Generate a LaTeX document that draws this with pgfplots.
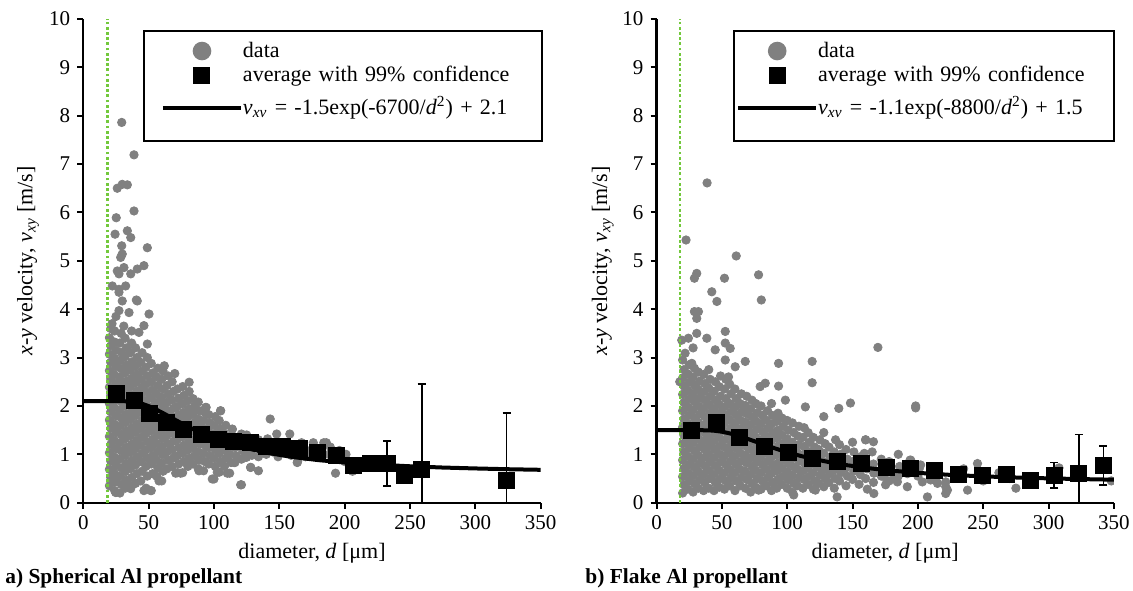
\documentclass[border=0pt]{standalone}
\usepackage{fontspec}
\setmainfont{Liberation Serif}
\usepackage{pgfplots}
\usepackage{pgfplotstable}
\pgfplotsset{compat=1.18}

\definecolor{dotgray}{RGB}{128,128,128}
\definecolor{limitgreen}{RGB}{115,200,60}

% ---------------- scatter data, spherical Al ----------------
\pgfplotstableread[row sep=\\]{x y\\
20 0.35\\21 0.52\\20 0.69\\21 0.86\\20 1.03\\21 1.20\\20 1.37\\21 1.54\\20 1.71\\21 1.88\\20 2.05\\21 2.22\\20 2.39\\21 2.56\\20 2.73\\21 2.90\\20 3.07\\21 3.24\\20 3.41\\
24 0.25\\25 0.43\\24 0.60\\25 0.77\\24 0.94\\25 1.11\\24 1.28\\25 1.45\\24 1.62\\25 1.79\\24 1.96\\25 2.13\\24 2.30\\25 2.47\\24 2.64\\25 2.81\\24 2.98\\25 3.15\\24 3.32\\24 3.55\\
28 0.20\\29 0.38\\28 0.55\\29 0.72\\28 0.90\\29 1.07\\28 1.24\\29 1.41\\28 1.58\\29 1.75\\28 1.92\\29 2.09\\28 2.26\\29 2.43\\28 2.60\\29 2.77\\28 2.94\\29 3.11\\28 3.30\\29 3.50\\
32 0.30\\33 0.47\\32 0.64\\33 0.81\\32 0.98\\33 1.15\\32 1.32\\33 1.49\\32 1.66\\33 1.83\\32 2.00\\33 2.17\\32 2.34\\33 2.51\\32 2.68\\33 2.85\\32 3.02\\33 3.20\\32 3.40\\
36 0.35\\37 0.52\\36 0.70\\37 0.87\\36 1.04\\37 1.21\\36 1.38\\37 1.55\\36 1.72\\37 1.89\\36 2.06\\37 2.23\\36 2.40\\37 2.57\\36 2.74\\37 2.91\\36 3.10\\37 3.30\\
40 0.40\\41 0.60\\40 0.78\\41 0.95\\40 1.12\\41 1.29\\40 1.46\\41 1.63\\40 1.80\\41 1.97\\40 2.14\\41 2.31\\40 2.48\\41 2.65\\40 2.82\\41 3.00\\40 3.20\\
44 0.45\\45 0.65\\44 0.85\\45 1.02\\44 1.19\\45 1.36\\44 1.53\\45 1.70\\44 1.87\\45 2.04\\44 2.21\\45 2.38\\44 2.55\\45 2.72\\44 2.90\\45 3.10\\
48 0.30\\49 0.55\\48 0.75\\49 0.92\\48 1.09\\49 1.26\\48 1.43\\49 1.60\\48 1.77\\49 1.94\\48 2.11\\49 2.28\\48 2.45\\49 2.62\\48 2.80\\49 3.00\\
52 0.25\\53 0.60\\52 0.80\\53 0.97\\52 1.14\\53 1.31\\52 1.48\\53 1.65\\52 1.82\\53 1.99\\52 2.16\\53 2.33\\52 2.50\\53 2.68\\52 2.88\\
56 0.55\\57 0.72\\56 0.89\\57 1.06\\56 1.23\\57 1.40\\56 1.57\\57 1.74\\56 1.91\\57 2.08\\56 2.25\\57 2.42\\56 2.60\\57 2.78\\
60 0.45\\61 0.65\\60 0.82\\61 0.99\\60 1.16\\61 1.33\\60 1.50\\61 1.67\\60 1.84\\61 2.01\\60 2.18\\61 2.35\\60 2.55\\61 2.72\\
64 0.70\\65 0.88\\64 1.05\\65 1.22\\64 1.39\\65 1.56\\64 1.73\\65 1.90\\64 2.07\\65 2.24\\64 2.42\\65 2.62\\62 2.83\\
68 0.75\\69 0.93\\68 1.10\\69 1.27\\68 1.44\\69 1.61\\68 1.78\\69 1.95\\68 2.12\\69 2.30\\68 2.50\\
72 0.62\\73 0.80\\72 0.97\\73 1.14\\72 1.31\\73 1.48\\72 1.65\\73 1.82\\72 1.99\\73 2.16\\72 2.35\\70 2.67\\
76 0.62\\77 0.85\\76 1.02\\77 1.19\\76 1.36\\77 1.53\\76 1.70\\77 1.87\\76 2.04\\77 2.22\\76 2.40\\
80 0.75\\81 0.92\\80 1.09\\81 1.26\\80 1.43\\81 1.60\\80 1.77\\81 1.94\\80 2.11\\81 2.30\\81 2.49\\
84 0.80\\85 0.97\\84 1.14\\85 1.31\\84 1.48\\85 1.65\\84 1.82\\85 1.99\\84 2.15\\
88 0.70\\89 0.88\\88 1.05\\89 1.22\\88 1.39\\89 1.56\\88 1.73\\89 1.90\\88 2.08\\
92 0.66\\93 0.85\\92 1.02\\93 1.19\\92 1.36\\93 1.53\\92 1.70\\93 1.87\\94 1.97\\
96 0.80\\97 0.97\\96 1.14\\97 1.31\\96 1.48\\97 1.65\\96 1.82\\
100 0.49\\101 0.75\\100 0.92\\101 1.09\\100 1.26\\101 1.43\\100 1.60\\101 1.78\\
104 0.63\\105 0.85\\104 1.02\\105 1.19\\104 1.36\\105 1.53\\104 1.70\\105 1.90\\
108 0.75\\109 0.92\\108 1.09\\109 1.26\\108 1.43\\109 1.60\\
112 0.61\\113 0.83\\112 1.00\\113 1.17\\112 1.34\\114 1.52\\
116 0.83\\117 0.97\\116 1.14\\117 1.31\\
121 0.37\\121 0.90\\122 1.07\\121 1.24\\121 1.42\\
125 0.94\\125 1.10\\126 1.27\\125 1.40\\
128 0.73\\129 0.98\\130 1.15\\129 1.32\\
134 0.66\\134 0.95\\135 1.12\\134 1.30\\
140 1.00\\140 1.17\\141 1.32\\
143 1.73\\145 1.05\\144 1.22\\
148 1.42\\149 0.95\\150 1.10\\
154 1.05\\155 1.20\\
158 1.42\\159 0.98\\160 1.10\\
164 0.85\\165 1.00\\166 1.15\\167 1.24\\
170 0.95\\171 1.08\\
176 0.98\\176 1.10\\176 1.24\\
182 1.05\\184 1.24\\186 1.24\\
188 1.00\\189 1.15\\
193 0.61\\195 0.95\\196 1.08\\
200 0.85\\201 1.00\\
206 0.65\\207 0.75\\
29.4 7.86\\38.8 7.19\\26.0 6.50\\29.8 6.58\\33.7 6.57\\38.8 6.03\\25.2 5.89\\24.3 5.55\\
33.7 5.62\\36.3 5.48\\49.0 5.27\\29.4 5.31\\29.8 5.14\\28.6 5.07\\26.0 4.79\\27.3 4.73\\
31.1 4.86\\36.3 4.73\\41.3 4.83\\46.4 4.90\\22.2 4.48\\27.3 4.41\\32.4 4.48\\29.8 4.17\\
40.6 4.19\\27.3 4.35\\41.3 4.17\\27.3 3.97\\35.0 3.93\\50.3 3.90\\46.4 3.66\\42.6 3.52\\
49.0 3.28\\22.0 3.70\\25.0 3.85\\31.0 3.65\\37.0 3.55\\21.0 3.60\\
24.8 0.21\\46.4 0.25\\51.6 0.25\\36.3 0.29\\57.9 0.45\\70.7 0.61\\74.5 0.61\\88.5 0.66\\
98.7 0.49\\120.4 0.37\\102.5 0.63\\110.2 0.61\\115.3 0.83\\128.1 0.73\\124.3 0.94\\
93.6 1.97\\105.1 1.90\\114.0 1.52\\163.7 0.83\\
}\sphdata

% ---------------- scatter data, flake Al ----------------
\pgfplotstableread[row sep=\\]{x y\\
20 0.20\\21 0.37\\20 0.54\\21 0.71\\20 0.88\\21 1.05\\20 1.22\\21 1.39\\20 1.56\\21 1.73\\20 1.90\\21 2.07\\20 2.24\\21 2.41\\20 2.58\\21 2.75\\20 2.95\\
24 0.28\\25 0.45\\24 0.62\\25 0.79\\24 0.96\\25 1.13\\24 1.30\\25 1.47\\24 1.64\\25 1.81\\24 1.98\\25 2.15\\24 2.32\\25 2.49\\24 2.66\\25 2.85\\
28 0.22\\29 0.39\\28 0.56\\29 0.73\\28 0.90\\29 1.07\\28 1.24\\29 1.41\\28 1.58\\29 1.75\\28 1.92\\29 2.09\\28 2.26\\29 2.43\\28 2.60\\29 2.78\\28 3.20\\
32 0.30\\33 0.47\\32 0.64\\33 0.81\\32 0.98\\33 1.15\\32 1.32\\33 1.49\\32 1.66\\33 1.83\\32 2.00\\33 2.17\\32 2.34\\33 2.51\\32 2.70\\
36 0.25\\37 0.42\\36 0.59\\37 0.76\\36 0.93\\37 1.10\\36 1.27\\37 1.44\\36 1.61\\37 1.78\\36 1.95\\37 2.12\\36 2.29\\37 2.46\\36 2.65\\
40 0.30\\41 0.50\\40 0.67\\41 0.84\\40 1.01\\41 1.18\\40 1.35\\41 1.52\\40 1.69\\41 1.86\\40 2.03\\41 2.20\\40 2.37\\41 2.55\\40 2.75\\
44 0.25\\45 0.42\\44 0.59\\45 0.76\\44 0.93\\45 1.10\\44 1.27\\45 1.44\\44 1.61\\45 1.78\\44 1.95\\45 2.12\\44 2.30\\45 2.50\\
48 0.32\\49 0.50\\48 0.67\\49 0.84\\48 1.01\\49 1.18\\48 1.35\\49 1.52\\48 1.69\\49 1.86\\48 2.03\\49 2.20\\48 2.40\\49 2.62\\
52 0.28\\53 0.45\\52 0.62\\53 0.79\\52 0.96\\53 1.13\\52 1.30\\53 1.47\\52 1.64\\53 1.81\\52 1.98\\53 2.15\\52 2.35\\53 2.55\\
56 0.35\\57 0.52\\56 0.69\\57 0.86\\56 1.03\\57 1.20\\56 1.37\\57 1.54\\56 1.71\\57 1.88\\56 2.05\\57 2.25\\56 2.45\\
60 0.25\\61 0.45\\60 0.62\\61 0.79\\60 0.96\\61 1.13\\60 1.30\\61 1.47\\60 1.64\\61 1.81\\60 1.98\\61 2.15\\60 2.35\\
64 0.35\\65 0.52\\64 0.69\\65 0.86\\64 1.03\\65 1.20\\64 1.37\\65 1.54\\64 1.71\\65 1.88\\64 2.05\\65 2.25\\
68 0.30\\69 0.48\\68 0.65\\69 0.82\\68 0.99\\69 1.16\\68 1.33\\69 1.50\\68 1.67\\69 1.84\\68 2.01\\69 2.20\\
72 0.22\\73 0.40\\72 0.58\\73 0.75\\72 0.92\\73 1.09\\72 1.26\\73 1.43\\72 1.60\\73 1.77\\72 1.94\\73 2.12\\
76 0.32\\77 0.50\\76 0.67\\77 0.84\\76 1.01\\77 1.18\\76 1.35\\77 1.52\\76 1.69\\77 1.86\\76 2.05\\
80 0.28\\81 0.45\\80 0.62\\81 0.79\\80 0.96\\81 1.13\\80 1.30\\81 1.47\\80 1.64\\81 1.81\\80 2.00\\
84 0.35\\85 0.52\\84 0.69\\85 0.86\\84 1.03\\85 1.20\\84 1.37\\85 1.54\\84 1.71\\85 1.90\\
88 0.25\\89 0.42\\88 0.60\\89 0.77\\88 0.94\\89 1.11\\88 1.28\\89 1.45\\88 1.62\\89 1.80\\88 2.05\\
92 0.30\\93 0.48\\92 0.65\\93 0.82\\92 0.99\\93 1.16\\92 1.33\\93 1.50\\92 1.68\\93 1.85\\
96 0.38\\97 0.55\\96 0.72\\97 0.89\\96 1.06\\97 1.23\\96 1.40\\97 1.58\\96 1.75\\
100 0.30\\101 0.47\\100 0.64\\101 0.81\\100 0.98\\101 1.15\\100 1.32\\101 1.50\\100 1.70\\
104 0.22\\105 0.40\\104 0.57\\105 0.74\\104 0.91\\105 1.08\\104 1.25\\105 1.45\\104 1.65\\
108 0.35\\109 0.52\\108 0.69\\109 0.86\\108 1.03\\109 1.20\\108 1.38\\109 1.58\\
112 0.30\\113 0.48\\112 0.65\\113 0.82\\112 0.99\\113 1.16\\112 1.35\\113 1.55\\
116 0.38\\117 0.55\\116 0.72\\117 0.89\\116 1.06\\117 1.25\\116 1.45\\
120 0.28\\121 0.45\\120 0.62\\121 0.79\\120 0.96\\121 1.15\\120 1.35\\
124 0.40\\125 0.57\\124 0.74\\125 0.91\\124 1.10\\125 1.30\\
128 0.33\\129 0.50\\128 0.67\\129 0.84\\128 1.02\\129 1.22\\128 1.45\\
132 0.42\\133 0.60\\132 0.77\\133 0.95\\132 1.15\\
136 0.30\\137 0.50\\136 0.68\\137 0.85\\136 1.05\\137 1.30\\
140 0.45\\141 0.62\\140 0.80\\141 1.00\\140 1.20\\
145 0.35\\146 0.55\\145 0.72\\146 0.90\\145 1.10\\
150 0.48\\151 0.65\\150 0.85\\151 1.05\\150 1.25\\
155 0.38\\156 0.58\\155 0.78\\156 0.95\\
160 0.50\\161 0.70\\160 0.88\\159 1.02\\160 1.30\\
166 0.42\\167 0.62\\166 0.80\\166 1.26\\165 1.05\\
172 0.55\\173 0.72\\172 0.90\\
178 0.45\\179 0.65\\178 0.85\\
185 0.55\\186 0.75\\185 1.00\\
192 0.60\\194 0.88\\
200 0.55\\201 0.70\\
210 0.60\\230 0.55\\235 0.70\\250 0.45\\262 0.62\\270 0.50\\275 0.30\\286 0.45\\
304 0.55\\308 0.72\\323 0.60\\342 0.75\\348 0.45\\
38.7 6.61\\22.6 5.43\\61.0 5.10\\30.8 4.74\\29.0 4.64\\52.0 4.64\\78.1 4.71\\42.3 4.36\\
46.2 4.16\\80.2 4.19\\29.0 3.95\\32.1 3.95\\30.8 3.81\\30.8 3.50\\38.5 3.40\\52.6 3.54\\
19.3 3.36\\24.4 3.40\\52.6 3.30\\56.4 3.19\\44.9 3.16\\21.9 3.09\\27.0 2.88\\52.6 2.95\\
67.9 2.92\\93.4 2.88\\119.1 2.92\\119.1 2.48\\60.2 2.81\\55.1 2.60\\83.2 2.47\\79.3 2.40\\
93.4 2.41\\98.6 2.12\\113.9 1.98\\128.0 1.78\\139.5 1.95\\148.4 2.06\\17.8 2.50\\169.4 3.21\\
198.3 2.00\\198.3 1.96\\160.0 1.30\\194.5 0.88\\245.6 0.81\\202.1 0.78\\166.3 0.61\\174.0 0.54\\
181.7 0.50\\184.3 0.43\\175.3 0.37\\191.9 0.33\\203.4 0.43\\209.8 0.47\\215.0 0.40\\221.3 0.43\\
222.6 0.26\\221.3 0.19\\238.0 0.26\\207.3 0.12\\161.3 0.28\\166.3 0.19\\105.0 0.16\\138.2 0.12\\
78.1 0.26\\121.6 0.26\\213.7 0.47\\221.3 0.33\\
}\flkdata

% ---------------- averages with 99% confidence ----------------
\pgfplotstableread[row sep=\\]{x y e\\
25.6 2.26 0.10\\38.8 2.12 0.08\\50.5 1.85 0.08\\63.8 1.67 0.08\\76.5 1.52 0.08\\
90.6 1.41 0.08\\103.3 1.31 0.08\\114.8 1.26 0.08\\127.5 1.25 0.08\\139.8 1.17 0.08\\
152.6 1.16 0.08\\165.3 1.12 0.10\\179.0 1.03 0.10\\193.3 0.97 0.12\\206.6 0.78 0.12\\
219.4 0.81 0.12\\232.6 0.81 0.47\\245.6 0.57 0.15\\258.9 0.68 1.77\\323.9 0.47 1.38\\
}\sphavg

\pgfplotstableread[row sep=\\]{x y e\\
27.0 1.50 0.06\\45.6 1.65 0.06\\63.5 1.36 0.06\\82.4 1.16 0.06\\101.1 1.03 0.06\\
119.1 0.92 0.06\\138.7 0.86 0.07\\156.7 0.81 0.07\\176.1 0.73 0.08\\193.9 0.71 0.08\\
212.4 0.66 0.08\\230.8 0.59 0.08\\249.5 0.57 0.09\\267.4 0.59 0.10\\286.0 0.47 0.10\\
304.4 0.57 0.26\\323.1 0.61 0.80\\342.0 0.77 0.41\\
}\flkavg

% ---------------- fitted curves (tabulated) ----------------
\pgfplotstableread[row sep=\\]{x y\\
0 2.100\\10 2.100\\20 2.100\\30 2.099\\35 2.094\\40 2.077\\45 2.045\\50 1.997\\55 1.936\\
60 1.867\\65 1.793\\70 1.718\\75 1.644\\80 1.573\\85 1.507\\90 1.444\\95 1.386\\100 1.332\\
110 1.238\\120 1.158\\140 1.034\\160 0.945\\180 0.880\\200 0.831\\225 0.786\\250 0.753\\
275 0.727\\300 0.708\\325 0.692\\350 0.680\\
}\sphfit

\pgfplotstableread[row sep=\\]{x y\\
0 1.500\\20 1.500\\30 1.500\\40 1.496\\45 1.486\\50 1.467\\55 1.440\\60 1.405\\65 1.363\\
70 1.317\\75 1.270\\80 1.222\\85 1.175\\90 1.129\\95 1.085\\100 1.044\\110 0.969\\
120 0.903\\140 0.798\\160 0.720\\180 0.662\\200 0.617\\225 0.575\\250 0.544\\275 0.521\\
300 0.503\\325 0.488\\350 0.476\\
}\flkfit

\pgfplotstableread[row sep=\\]{x y\\ 18.7 0\\ 18.7 10\\}\sphlim
\pgfplotstableread[row sep=\\]{x y\\ 18.0 0\\ 18.0 10\\}\flklim

\pgfplotsset{
  myleg/.style={legend image code/.code={%
      \draw[mark repeat=2,mark phase=2,##1] plot coordinates {(0pt,3pt) (19.5pt,3pt) (39pt,3pt)};}},
  fitleg/.style={legend image code/.code={%
      \draw[##1] (0pt,3pt) -- (39pt,3pt);
      \path[draw=none, fill=none] (0pt,-8.5pt) -- (0pt,12.5pt);}},
  vstyle/.style={
    scale only axis, width=228.7pt, height=241.9pt,
    xmin=0, xmax=350, ymin=0, ymax=10,
    xtick={0,50,...,350}, ytick={0,1,...,10},
    axis x line=bottom, axis y line=left,
    axis line style={-, line width=1.2pt, black},
    tick style={line width=1pt, black},
    tick align=outside, major tick length=3pt,
    tick label style={font=\fontsize{10.5}{12}\selectfont},
    /pgf/number format/assume math mode=true,
    label style={font=\fontsize{11}{13}\selectfont},
    xlabel={diameter, \textit{d} [μm]},
    ylabel={\textit{x}-\textit{y} velocity, \textit{v}\textsubscript{\textit{xy}} [m/s]},
    xlabel style={at={(axis description cs:0.5,-0.1046)}, anchor=center},
    clip marker paths=true,
  },
  legbox/.style={
    legend style={draw=black, line width=1pt, fill=white, inner ysep=5pt,
      font=\fontsize{11}{13}\selectfont, row sep=2.5pt,
      cells={anchor=base west},
      /tikz/every even column/.append style={column sep=4.5pt},
      nodes={inner sep=0pt, align=left}}},
  scat/.style={only marks, mark=*, mark size=2.1pt, color=dotgray,
    mark options={draw=none, fill=dotgray}, legend image post style={mark size=4.15pt}, myleg},
  avg/.style={only marks, mark=square*, mark size=4pt, color=black,
    mark options={draw=none, fill=black},
    error bars/.cd, y dir=both, y explicit,
    error bar style={line width=0.9pt, black},
    error mark options={rotate=90, mark size=2pt, line width=0.9pt, black},
    /pgfplots/.cd, myleg, legend image post style={mark size=3.75pt}},
  fit/.style={no marks, black, line width=2pt, line join=round, fitleg},
  lim/.style={no marks, limitgreen, line width=1.4pt, dash pattern=on 1.4pt off 1.2pt, forget plot},
}
\newcommand{\rowA}{\rule[-3pt]{0pt}{11pt}}
\newcommand{\rowC}{\rule{0pt}{12.5pt}}

\begin{document}
\begin{tikzpicture}[font=\fontsize{11}{13}\selectfont]
\useasboundingbox (-41.65pt,-43.65pt) rectangle (524.85pt,251.35pt);

\begin{axis}[vstyle, legbox, at={(0pt,0pt)}, anchor=south west,
  ylabel style={at={(axis description cs:-0.121,0.5)}, anchor=center},
  legend style={at={(axis description cs:0.1305,0.977)}, anchor=north west,
    inner xsep=8.5pt, nodes={text width=141pt}}]
\addplot[scat] table[x=x, y=y] {\sphdata};
\addlegendentry{\rowA data}
\addplot[lim] table[x=x, y=y] {\sphlim};
\addplot[avg] table[x=x, y=y, y error=e] {\sphavg};
\addlegendentry{\rowA average with 99\% confidence}
\addplot[fit] table[x=x, y=y] {\sphfit};
\addlegendentry{\rowC\textit{v}\textsubscript{\textit{xv}} = -1.5exp(-6700/\textit{d}\textsuperscript{2}) + 2.1}
\end{axis}

\begin{axis}[vstyle, legbox, at={(286.6pt,0pt)}, anchor=south west,
  ylabel style={at={(axis description cs:-0.1173,0.5)}, anchor=center},
  legend style={at={(axis description cs:0.1677,0.977)}, anchor=north west,
    inner xsep=1pt, nodes={text width=147pt}}]
\addplot[scat] table[x=x, y=y] {\flkdata};
\addlegendentry{\rowA data}
\addplot[lim] table[x=x, y=y] {\flklim};
\addplot[avg] table[x=x, y=y, y error=e] {\flkavg};
\addlegendentry{\rowA average with 99\% confidence}
\addplot[fit] table[x=x, y=y] {\flkfit};
\addlegendentry{\rowC\textit{v}\textsubscript{\textit{xv}} = -1.1exp(-8800/\textit{d}\textsuperscript{2}) + 1.5}
\end{axis}

\node[anchor=west, inner sep=0pt, font=\bfseries\fontsize{10.7}{13}\selectfont] at (-39.15pt,-37.65pt) {a) Spherical Al propellant};
\node[anchor=west, inner sep=0pt, font=\bfseries\fontsize{10.7}{13}\selectfont] at (250.85pt,-37.65pt) {b) Flake Al propellant};
\end{tikzpicture}
\end{document}
